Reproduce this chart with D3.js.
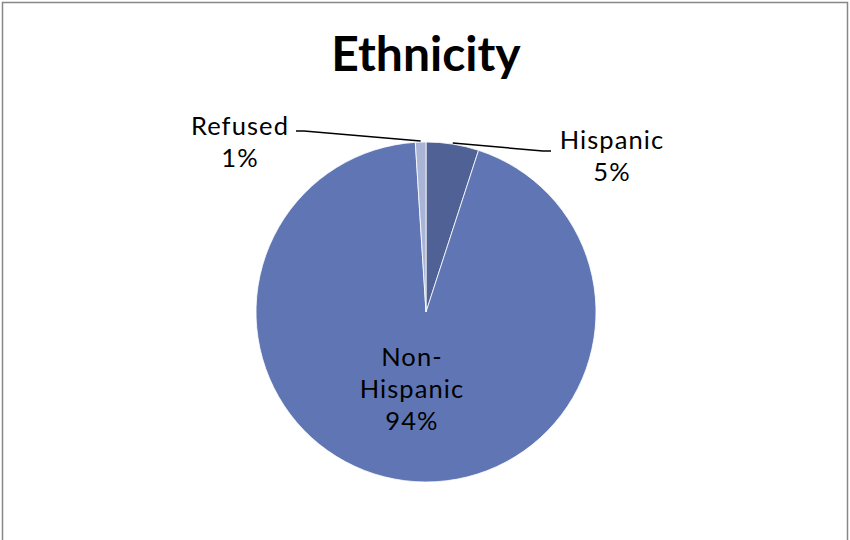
<!DOCTYPE html>
<html>
<head>
<meta charset="utf-8">
<script src="https://cdn.jsdelivr.net/npm/d3@7/dist/d3.min.js"></script>
<style>
  html, body { margin: 0; padding: 0; background: #fff; }
  svg { display: block; }
  text { font-family: "Lato", "DejaVu Sans", sans-serif; fill: #000; }
</style>
</head>
<body>
<svg id="chart" width="850" height="540"></svg>
<script>
// Ethnicity breakdown (percent)
const categories = ["Hispanic", "Non-Hispanic", "Refused"];
const values = [5, 94, 1];
const colors = ["#4f6195", "#6076b4", "#aab4d6"];

const W = 850, H = 540;
const cx = 426, cy = 312, radius = 170;

const svg = d3.select("#chart");

// chart frame (open at the bottom edge of the view)
svg.append("path")
  .attr("d", `M2.5,${H} V2.5 H847.5 V${H}`)
  .attr("fill", "none")
  .attr("stroke", "#878787")
  .attr("stroke-width", 1.5);

svg.append("text")
  .attr("x", cx)
  .attr("y", 71)
  .attr("text-anchor", "middle")
  .attr("font-size", 48)
  .attr("font-weight", "bold")
  .text("Ethnicity");

const data = categories.map((c, i) => ({ name: c, value: values[i], color: colors[i] }));

const pie = d3.pie().sort(null).value(d => d.value);
const arcs = pie(data);
const arc = d3.arc().innerRadius(0).outerRadius(radius);

const g = svg.append("g").attr("transform", `translate(${cx},${cy})`);

g.selectAll("path.slice")
  .data(arcs)
  .join("path")
  .attr("class", "slice")
  .attr("d", arc)
  .attr("fill", d => d.data.color)
  .attr("stroke", "#ffffff")
  .attr("stroke-width", 0.8);

const pct = d => `${d.data.value}%`;

// label placement per category (outside labels use a leader line)
const labelSpec = {
  "Hispanic":     { x: 612, y: 149, inside: false, elbow: [551, 151], side: 1 },
  "Non-Hispanic": { x: 412, y: 366, inside: true },
  "Refused":      { x: 240, y: 135, inside: false, elbow: [296, 131], side: -1 }
};

arcs.forEach(d => {
  const s = labelSpec[d.data.name];
  const lines = s.inside
    ? ["Non-", "Hispanic", pct(d)]
    : [d.data.name, pct(d)];
  const t = svg.append("text")
    .attr("text-anchor", "middle")
    .attr("font-size", 25.5)
    .attr("letter-spacing", 1.1);
  lines.forEach((ln, i) => {
    t.append("tspan")
      .attr("x", s.x)
      .attr("y", s.y + i * 32)
      .text(ln);
  });

  if (!s.inside) {
    // leader line from a point near the slice's outer edge to the label
    const mid = (d.startAngle + d.endAngle) / 2;
    const r0 = radius + 1;
    const px = cx + r0 * Math.sin(mid);
    const py = cy - r0 * Math.cos(mid);
    const ex = s.elbow[0], ey = s.elbow[1];
    const kx = ex - s.side * 8;
    svg.append("polyline")
      .attr("points", `${px},${py} ${kx},${ey} ${ex},${ey}`)
      .attr("fill", "none")
      .attr("stroke", "#000")
      .attr("stroke-width", 1.5);
  }
});
</script>
</body>
</html>
